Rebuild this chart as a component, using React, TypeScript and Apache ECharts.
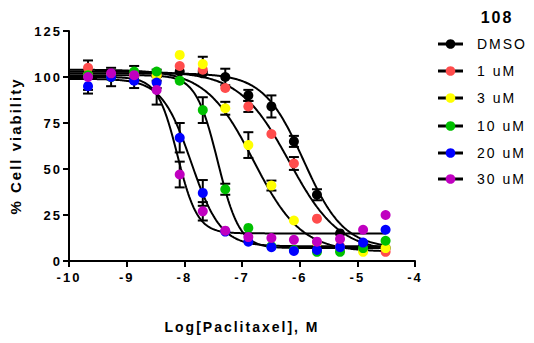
import React, { useEffect, useRef } from "react";
import * as echarts from "echarts";

// log10 molar paclitaxel concentrations (2.5-fold dilution series)
const logConc = [-9.67, -9.27, -8.87, -8.48, -8.08, -7.68, -7.29, -6.89, -6.49, -6.1, -5.7, -5.3, -4.9, -4.51];

const seriesNames = ["DMSO", "1 uM", "3 uM", "10 uM", "20 uM", "30 uM"];
const seriesColors = ["#000000", "#ff4c4c", "#ffff00", "#00c000", "#0000ff", "#c000c0"];

// mean % viability per concentration
const dmsoMean = [101, 100, 100, 101, 103, 102, 100, 90, 84, 65, 36, 15, 8, 7];
const uM1Mean = [105, 101, 101, 101, 106, 104, 94, 84, 69, 53, 23, 8, 6, 5];
const uM3Mean = [101, 101, 101, 101, 112, 107, 83, 63, 41, 22, 10, 7, 5, 7];
const uM10Mean = [101, 100, 103, 103, 98, 82, 39, 18, 8, 6, 5, 5, 7, 11];
const uM20Mean = [95, 100, 98, 97, 67, 37, 16, 10.5, 7.5, 5.5, 6, 7.5, 10, 17];
const uM30Mean = [100, 102, 101, 93, 47, 27, 16.5, 13, 12.5, 11.5, 10.5, 12, 17, 25];

// standard deviations (0 = bar hidden behind the symbol)
const dmsoSd = [8, 5, 6, 3, 0, 0, 4.5, 3, 6, 3, 3, 0, 0, 0];
const uM1Sd = [0, 0, 0, 0, 0, 0, 0, 3, 0, 3.5, 0, 0, 0, 0];
const uM3Sd = [0, 0, 0, 0, 0, 4, 3.5, 7, 2.7, 0, 0, 0, 0, 0];
const uM10Sd = [0, 0, 0, 0, 0, 7, 3, 0, 0, 0, 0, 0, 0, 0];
const uM20Sd = [4, 0, 0, 3, 8, 7, 0, 0, 0, 0, 0, 0, 0, 0];
const uM30Sd = [0, 0, 0, 8, 7, 5, 0, 0, 0, 0, 0, 0, 0, 0];

const means = [dmsoMean, uM1Mean, uM3Mean, uM10Mean, uM20Mean, uM30Mean];
const sds = [dmsoSd, uM1Sd, uM3Sd, uM10Sd, uM20Sd, uM30Sd];

// four-parameter logistic fit results for each condition
const fitTop = [102, 103, 104, 101, 99, 100];
const fitBottom = [7, 5, 5, 7, 8, 15];
const fitLogIC50 = [-5.93, -6.18, -6.8, -7.42, -7.88, -8.12];
const fitHill = [1.25, 1.0, 1.05, 2.3, 1.7, 2.5];

const curveStart = -10;
const curveEnd = -4.51;

const yTicks = { min: 0, max: 125, interval: 25 };
const xTicks = { min: -10, max: -4, interval: 1 };

const FONT = "Liberation Sans, Arial, sans-serif";

function fitCurve(i: number): number[][] {
  const pts: number[][] = [];
  const steps = 300;
  for (let k = 0; k <= steps; k++) {
    const x = curveStart + ((curveEnd - curveStart) * k) / steps;
    const y =
      fitBottom[i] +
      (fitTop[i] - fitBottom[i]) / (1 + Math.pow(10, (x - fitLogIC50[i]) * fitHill[i]));
    pts.push([x, y]);
  }
  return pts;
}

export default function App() {
  const ref = useRef<HTMLDivElement>(null);

  useEffect(() => {
    if (!ref.current) return;
    const chart = echarts.init(ref.current, undefined, { renderer: "svg" });

    const series: any[] = [];
    seriesNames.forEach((name, i) => {
      series.push({
        type: "line",
        name: name + " fit",
        data: fitCurve(i),
        showSymbol: false,
        smooth: false,
        lineStyle: { color: "#000", width: 2 },
        z: 2,
        silent: true,
      });
    });
    seriesNames.forEach((name, i) => {
      series.push({
        type: "custom",
        name: name + " sd",
        data: logConc.map((x, j) => [x, means[i][j], sds[i][j]]),
        renderItem: (params: any, api: any) => {
          const x = api.value(0);
          const m = api.value(1);
          const e = api.value(2);
          if (!e) return null;
          const top = api.coord([x, m + e]);
          const bot = api.coord([x, m - e]);
          const hw = 5;
          const style = { stroke: "#000", lineWidth: 2 };
          return {
            type: "group",
            children: [
              { type: "line", shape: { x1: top[0], y1: top[1], x2: bot[0], y2: bot[1] }, style },
              { type: "line", shape: { x1: top[0] - hw, y1: top[1], x2: top[0] + hw, y2: top[1] }, style },
              { type: "line", shape: { x1: bot[0] - hw, y1: bot[1], x2: bot[0] + hw, y2: bot[1] }, style },
            ],
          };
        },
        z: 3,
        silent: true,
      });
    });
    seriesNames.forEach((name, i) => {
      series.push({
        type: "scatter",
        name,
        data: logConc.map((x, j) => [x, means[i][j]]),
        symbol: "circle",
        symbolSize: 10,
        itemStyle: { color: seriesColors[i], opacity: 1 },
        z: 4,
      });
    });

    const legendGraphics: any[] = [];
    const rowY = [44, 71, 98, 126, 153, 179];
    seriesNames.forEach((name, i) => {
      legendGraphics.push({
        type: "line",
        shape: { x1: 438, y1: rowY[i], x2: 463, y2: rowY[i] },
        style: { stroke: "#000", lineWidth: 3 },
      });
      legendGraphics.push({
        type: "circle",
        shape: { cx: 450.5, cy: rowY[i], r: 4.8 },
        style: { fill: seriesColors[i] },
      });
      legendGraphics.push({
        type: "text",
        x: 477,
        y: rowY[i],
        style: {
          text: name,
          fill: "#000",
          font: `14px ${FONT}`,
          textVerticalAlign: "middle",
          verticalAlign: "middle",
        },
      });
    });
    legendGraphics.push({
      type: "text",
      x: 497,
      y: 17,
      style: {
        text: "108",
        fill: "#000",
        font: `bold 16px ${FONT}`,
        align: "center",
        textAlign: "center",
        verticalAlign: "middle",
        textVerticalAlign: "middle",
      },
    });

    chart.setOption({
      animation: false,
      backgroundColor: "#ffffff",
      grid: { left: 66.7, right: 119, top: 31, bottom: 82, containLabel: false },
      xAxis: {
        type: "value",
        min: xTicks.min,
        max: xTicks.max,
        interval: xTicks.interval,
        name: "Log[Paclitaxel], M",
        nameLocation: "middle",
        nameGap: 59,
        nameTextStyle: { fontFamily: FONT, fontWeight: "bold", fontSize: 14, color: "#000" },
        axisLine: { lineStyle: { color: "#000", width: 2 } },
        axisTick: { length: 6, lineStyle: { color: "#000", width: 2 } },
        axisLabel: { fontFamily: FONT, fontWeight: "bold", fontSize: 13, color: "#000", margin: 10 },
        splitLine: { show: false },
      },
      yAxis: {
        type: "value",
        min: yTicks.min,
        max: yTicks.max,
        interval: yTicks.interval,
        name: "% Cell viability",
        nameLocation: "middle",
        nameGap: 46,
        nameRotate: 90,
        nameTextStyle: { fontFamily: FONT, fontWeight: "bold", fontSize: 15, color: "#000" },
        axisLine: { show: true, lineStyle: { color: "#000", width: 2 } },
        axisTick: { show: true, length: 6, lineStyle: { color: "#000", width: 2 } },
        axisLabel: { fontFamily: FONT, fontWeight: "bold", fontSize: 13, color: "#000", margin: 7 },
        splitLine: { show: false },
      },
      graphic: legendGraphics,
      series,
    });

    return () => chart.dispose();
  }, []);

  return (
    <div
      ref={ref}
      style={{
        position: "fixed",
        left: 0,
        top: 0,
        width: 534,
        height: 343,
        background: "#fff",
        letterSpacing: "2px",
      }}
    />
  );
}
